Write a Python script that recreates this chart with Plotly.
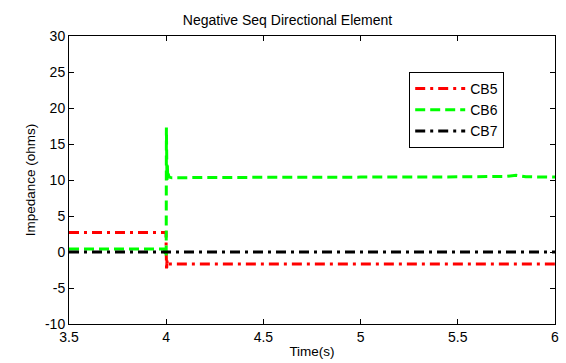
import plotly.graph_objects as go

# CB5 (red, dash-dot)
t_cb5 = [3.5, 3.999, 4.000, 4.002, 4.004, 4.006, 4.010, 6.0]
z_cb5 = [2.7, 2.7, 0.2, -2.6, -1.2, -1.9, -1.65, -1.65]

# CB6 (green, dashed)
t_cb6 = [3.5, 3.99, 4.000, 4.001, 4.002, 4.003, 4.004, 4.006, 4.008, 4.010, 4.015, 4.03,
         4.2, 4.5, 4.8, 5.0, 5.3, 5.6, 5.75, 5.8, 5.85, 6.0]
z_cb6 = [0.4, 0.4, -0.7, 17.3, 9.0, 14.5, 10.0, 12.0, 10.2, 10.9, 10.4, 10.3,
         10.35, 10.4, 10.4, 10.4, 10.4, 10.4, 10.5, 10.65, 10.45, 10.4]

# CB7 (black, dash-dot)
t_cb7 = [3.5, 6.0]
z_cb7 = [0.0, 0.0]

x_ticks = [3.5, 4, 4.5, 5, 5.5, 6]
x_labels = ["3.5", "4", "4.5", "5", "5.5", "6"]
y_ticks = [-10, -5, 0, 5, 10, 15, 20, 25, 30]
y_labels = ["-10", "-5", "0", "5", "10", "15", "20", "25", "30"]

dashdot = "10px,5px,3px,5px"

fig = go.Figure()
fig.add_trace(go.Scatter(x=t_cb5, y=z_cb5, name="CB5", mode="lines",
                         line=dict(color="#ff0000", width=3, dash=dashdot)))
fig.add_trace(go.Scatter(x=t_cb6, y=z_cb6, name="CB6", mode="lines",
                         line=dict(color="#00ff00", width=3, dash="10px,5px")))
fig.add_trace(go.Scatter(x=t_cb7, y=z_cb7, name="CB7", mode="lines",
                         line=dict(color="#000000", width=3, dash=dashdot)))

font = dict(family="Liberation Sans, Arial, sans-serif", size=14, color="black")

fig.update_layout(
    width=566, height=363,
    margin=dict(l=69, r=11, t=36, b=39, autoexpand=False),
    paper_bgcolor="white", plot_bgcolor="white",
    font=font,
    title=dict(text="Negative Seq Directional Element", x=0.508, xanchor="center",
               y=1 - 20 / 363, yanchor="middle", font=dict(size=14)),
    showlegend=True,
    legend=dict(x=0.70, y=0.875, xanchor="left", yanchor="top",
                bordercolor="black", borderwidth=1, bgcolor="white",
                font=dict(size=14), tracegroupgap=0, itemwidth=50),
    xaxis=dict(range=[3.5, 6], tickvals=x_ticks, ticktext=x_labels,
               showgrid=False, zeroline=False, showline=True, linecolor="black",
               linewidth=1, mirror="ticks", ticks="inside", ticklen=5,
               tickcolor="black", automargin=False, tickfont=dict(size=14),
               title=dict(text="Time(s)", font=dict(size=13.5), standoff=2)),
    yaxis=dict(range=[-10, 30], tickvals=y_ticks, ticktext=y_labels,
               showgrid=False, zeroline=False, showline=True, linecolor="black",
               linewidth=1, mirror="ticks", ticks="inside", ticklen=5,
               tickcolor="black", automargin=False, tickfont=dict(size=14),
               title=dict(text="Impedance (ohms)", font=dict(size=13.5), standoff=6)),
)

fig.write_html("out.html", config={"displayModeBar": False},
               post_script="document.body.style.margin='0';")
